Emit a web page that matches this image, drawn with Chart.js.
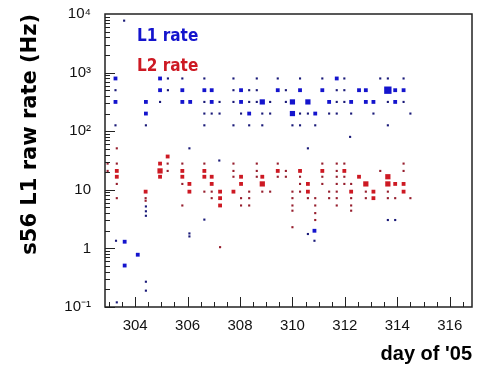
<!DOCTYPE html>
<html>
<head>
<meta charset="utf-8">
<script src="https://cdn.jsdelivr.net/npm/chart.js@4.4.1/dist/chart.umd.min.js"></script>
<style>
  body { margin: 0; background: #fff; }
  #wrap { width: 481px; height: 369px; }
</style>
</head>
<body>
<div id="wrap"><canvas id="rate-chart"></canvas></div>
<script>
const ctx = document.getElementById('rate-chart').getContext('2d');

// bins: [day, rate (Hz), relative bin content 1..4]
const l1Bins = [
    [303.25, 794, 2], [303.25, 501, 1], [303.25, 316, 2], [303.25, 126, 1],
    [303.58, 7700, 1], [303.27, 1.35, 1], [303.6, 1.3, 2], [303.6, 0.51, 2], [304.1, 0.78, 2], [303.3, 0.12, 1],
    [304.41, 316, 2], [304.41, 200, 2], [304.41, 126, 1], [304.41, 5.2, 1], [304.41, 4.3, 1], [304.41, 3.6, 1],
    [304.41, 0.27, 1], [304.41, 0.19, 1],
    [304.95, 794, 2], [304.95, 501, 2], [304.95, 316, 1],
    [305.25, 794, 1], [305.25, 501, 1],
    [305.8, 794, 1], [305.8, 501, 2], [305.8, 316, 2],
    [306.1, 316, 2], [306.07, 51, 1], [306.07, 1.8, 1], [306.07, 1.6, 1],
    [306.64, 794, 1], [306.64, 501, 2], [306.64, 316, 1], [306.64, 200, 1], [306.64, 126, 1], [306.64, 3.1, 1],
    [306.92, 501, 2], [306.92, 316, 2], [306.92, 200, 1],
    [307.22, 316, 1], [307.22, 200, 1], [307.21, 31.6, 1],
    [307.75, 794, 1], [307.75, 501, 1], [307.75, 316, 1], [307.75, 126, 1],
    [308.04, 501, 2], [308.04, 316, 2], [308.04, 200, 1],
    [308.35, 501, 1], [308.35, 316, 1], [308.35, 200, 2], [308.35, 126, 1],
    [308.64, 794, 1], [308.64, 501, 1], [308.64, 316, 1],
    [308.85, 316, 3], [308.85, 200, 1], [308.85, 126, 1],
    [309.15, 316, 1], [309.15, 200, 1],
    [309.44, 794, 1], [309.44, 501, 2],
    [309.75, 501, 1], [309.75, 316, 1],
    [310.0, 316, 3], [310.0, 200, 3], [310.0, 126, 1],
    [310.29, 794, 1], [310.29, 501, 2], [310.29, 200, 1], [310.29, 126, 1],
    [310.59, 316, 3], [310.59, 200, 1], [310.59, 51, 1], [310.59, 1.76, 1],
    [310.87, 200, 2], [310.87, 126, 1], [310.84, 2.0, 2], [310.84, 1.35, 1],
    [311.14, 794, 1], [311.14, 501, 2],
    [311.4, 316, 2], [311.4, 200, 1],
    [311.69, 794, 2], [311.69, 501, 1], [311.69, 316, 1], [311.69, 200, 1],
    [311.98, 794, 1], [311.98, 501, 1], [311.98, 316, 1],
    [312.24, 316, 2], [312.24, 200, 1], [312.2, 80, 1],
    [312.54, 501, 2],
    [312.8, 501, 2], [312.8, 316, 2],
    [313.09, 316, 2], [313.09, 200, 1],
    [313.35, 794, 1],
    [313.64, 794, 1], [313.64, 501, 4], [313.64, 316, 1], [313.64, 126, 1], [313.64, 3.05, 1],
    [313.92, 501, 2], [313.92, 316, 2], [313.92, 3.05, 1],
    [314.24, 794, 1], [314.24, 501, 2], [314.24, 316, 1],
    [314.5, 200, 1]
];

const l2Bins = [
    [302.95, 28, 1], [302.95, 21, 1],
    [303.3, 51, 1], [303.3, 28, 1], [303.3, 21, 2], [303.3, 16.7, 2], [303.3, 12.6, 1], [303.3, 7.2, 1],
    [304.4, 9.3, 2], [304.4, 7.2, 1], [304.4, 6.5, 1],
    [304.95, 28, 2], [304.95, 21, 3], [304.95, 16.7, 2],
    [305.24, 37, 2], [305.24, 28, 1], [305.24, 21, 1],
    [305.8, 28, 1], [305.8, 21, 2], [305.8, 16.7, 2], [305.8, 12.6, 1], [305.8, 5.4, 1],
    [306.07, 12.6, 2], [306.07, 9.3, 2],
    [306.64, 28, 1], [306.64, 21, 2], [306.64, 16.7, 2], [306.64, 9.3, 1],
    [306.92, 16.7, 2], [306.92, 12.6, 2], [306.92, 9.3, 1], [306.92, 7.2, 1],
    [307.24, 9.3, 2], [307.24, 7.2, 2], [307.24, 5.4, 2], [307.24, 1.05, 1],
    [307.75, 28, 1], [307.75, 21, 1], [307.75, 16.7, 1], [307.75, 9.3, 2],
    [308.04, 16.7, 2], [308.04, 12.6, 2], [308.04, 7.2, 1], [308.04, 5.4, 1],
    [308.35, 9.3, 1], [308.35, 7.2, 1], [308.35, 5.4, 1],
    [308.64, 28, 1], [308.64, 21, 1], [308.64, 16.7, 1],
    [308.85, 16.7, 2], [308.85, 12.6, 3], [308.85, 9.3, 1],
    [309.15, 9.3, 1],
    [309.44, 28, 1], [309.44, 21, 2], [309.44, 16.7, 1],
    [309.75, 21, 1], [309.75, 16.7, 1],
    [310.0, 9.3, 1], [310.0, 7.2, 1], [310.0, 5.4, 1], [310.0, 4.4, 1], [310.0, 2.3, 1],
    [310.29, 21, 2], [310.29, 16.7, 1], [310.29, 12.6, 1], [310.29, 9.3, 1],
    [310.59, 12.6, 2], [310.59, 9.3, 2], [310.59, 7.2, 1],
    [310.87, 7.2, 1], [310.87, 5.4, 1], [310.87, 4.0, 1], [310.87, 3.05, 1],
    [311.14, 28, 1], [311.14, 21, 2], [311.14, 16.7, 1], [311.14, 12.6, 1],
    [311.4, 9.3, 1], [311.4, 7.2, 1],
    [311.69, 28, 1], [311.69, 21, 1], [311.69, 16.7, 1], [311.69, 12.6, 1], [311.69, 9.3, 1], [311.69, 7.2, 1], [311.69, 5.4, 1],
    [311.98, 28, 1], [311.98, 21, 2], [311.98, 16.7, 1], [311.98, 12.6, 1],
    [312.24, 12.6, 1], [312.24, 9.3, 2], [312.24, 7.2, 1], [312.24, 5.4, 1], [312.24, 4.4, 1],
    [312.54, 16.7, 2],
    [312.8, 12.6, 3], [312.8, 9.3, 1], [312.8, 7.2, 1],
    [313.09, 9.3, 2], [313.09, 7.2, 2],
    [313.35, 21, 1],
    [313.64, 16.7, 3], [313.64, 12.6, 3], [313.64, 9.3, 1], [313.64, 7.2, 1],
    [313.92, 12.6, 2], [313.92, 7.2, 1],
    [314.24, 28, 1], [314.24, 21, 1], [314.24, 12.6, 2], [314.24, 9.3, 2],
    [314.5, 7.2, 1]
];

const seriesNames = ['L1 rate', 'L2 rate'];
const dayTicks = [304, 306, 308, 310, 312, 314, 316];
const rateTicks = [0.1, 1, 10, 100, 1000, 10000];
const rateTickLabels = ['10⁻¹', '1', '10', '10²', '10³', '10⁴'];

const boxRadius = [0, 1.5, 2.7, 3.7, 5.2];
const blue = 'rgb(20, 20, 205)';
const darkBlue = 'rgb(25, 25, 120)';
const red = 'rgb(205, 25, 35)';
const darkRed = 'rgb(150, 30, 45)';

function toDataset(bins, label, color, smallColor) {
    return {
        label: label,
        data: bins.map(b => ({ x: b[0], y: b[1] })),
        pointStyle: 'rect',
        pointRadius: bins.map(b => boxRadius[b[2]]),
        pointBackgroundColor: bins.map(b => b[2] === 1 ? smallColor : color),
        pointBorderWidth: 0,
        showLine: false
    };
}

// frame, inward ticks and the in-plot labels, ROOT style
const rootFrame = {
    id: 'rootFrame',
    afterDraw(chart) {
        const { ctx, chartArea: a, scales: { x, y } } = chart;
        ctx.save();
        ctx.strokeStyle = '#222';
        ctx.lineWidth = 1;
        ctx.beginPath();
        for (let d = -1; d <= 3; d++) {
            for (let m = 1; m <= 9; m++) {
                const py = Math.round(y.getPixelForValue(m * Math.pow(10, d))) + 0.5;
                const len = m === 1 ? 10 : 5;
                ctx.moveTo(a.left, py);
                ctx.lineTo(a.left + len, py);
            }
        }
        for (let v = 303; v <= 316.5; v += 0.5) {
            const px = Math.round(x.getPixelForValue(v)) + 0.5;
            const len = v % 2 === 0 ? 10 : 5;
            ctx.moveTo(px, a.bottom);
            ctx.lineTo(px, a.bottom - len);
        }
        ctx.stroke();
        ctx.lineWidth = 1.5;
        ctx.strokeRect(a.left, a.top, a.right - a.left, a.bottom - a.top);

        ctx.font = 'bold 17px "Liberation Sans Narrow", "DejaVu Sans Condensed", sans-serif';
        ctx.textBaseline = 'middle';
        ctx.fillStyle = blue;
        ctx.fillText(seriesNames[0], a.left + 32, a.top + 23);
        ctx.fillStyle = red;
        ctx.fillText(seriesNames[1], a.left + 32, a.top + 53);
        ctx.restore();
    }
};

const tickFont = { family: '"Liberation Sans", Arial, sans-serif', size: 15 };

const rateChart = new Chart(ctx, {
    type: 'scatter',
    data: {
        datasets: [
            toDataset(l1Bins, seriesNames[0], blue, darkBlue),
            toDataset(l2Bins, seriesNames[1], red, darkRed)
        ]
    },
    options: {
        responsive: true,
        maintainAspectRatio: false,
        animation: false,
        layout: { padding: { top: 14, right: 9, bottom: 0, left: 0 } },
        scales: {
            x: {
                type: 'linear',
                min: 302.85,
                max: 316.85,
                afterBuildTicks: s => { s.ticks = dayTicks.map(v => ({ value: v })); },
                afterFit: s => { s.height = 62; s.paddingLeft = 0; s.paddingRight = 0; },
                grid: { display: false, drawTicks: false },
                border: { display: false },
                ticks: { font: tickFont, color: '#111', padding: 10, maxRotation: 0 },
                title: {
                    display: true,
                    text: "day of '05",
                    align: 'end',
                    color: '#000',
                    font: { family: '"Liberation Sans", Arial, sans-serif', size: 20, weight: 'bold' },
                    padding: { top: 0, bottom: 3 }
                }
            },
            y: {
                type: 'logarithmic',
                min: 0.1,
                max: 10000,
                afterBuildTicks: s => { s.ticks = rateTicks.map(v => ({ value: v })); },
                afterFit: s => { s.width = 105; s.paddingTop = 0; s.paddingBottom = 0; },
                grid: { display: false, drawTicks: false },
                border: { display: false },
                ticks: {
                    font: tickFont,
                    color: '#111',
                    padding: 14,
                    callback: (value) => rateTickLabels[rateTicks.indexOf(value)]
                },
                title: {
                    display: true,
                    text: 's56 L1 raw rate (Hz)',
                    align: 'end',
                    color: '#000',
                    font: { family: '"DejaVu Sans", sans-serif', size: 21, weight: 'bold' },
                    padding: { top: 18, bottom: 0 }
                }
            }
        },
        plugins: {
            legend: { display: false },
            tooltip: { enabled: false }
        }
    },
    plugins: [rootFrame]
});
</script>
</body>
</html>
